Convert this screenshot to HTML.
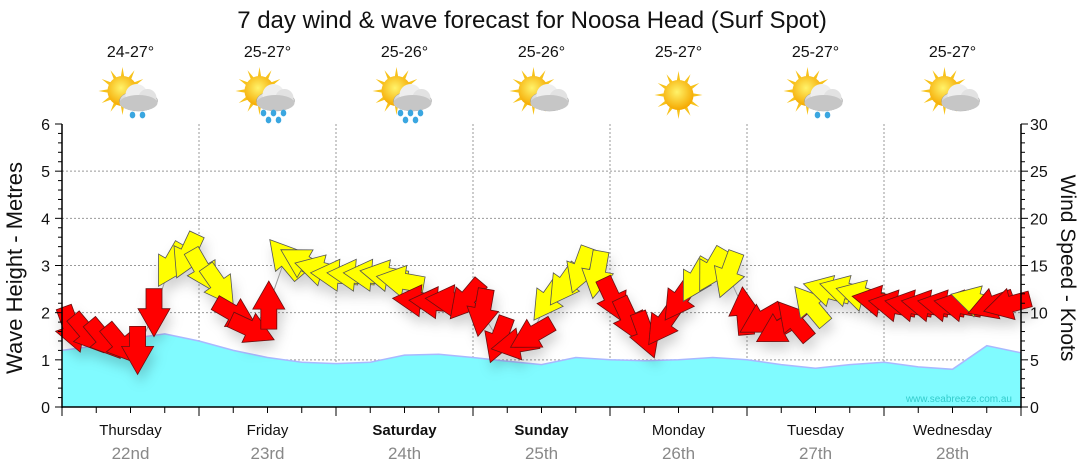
<!DOCTYPE html>
<html><head><meta charset="utf-8">
<style>
html,body{margin:0;padding:0;background:#fff;}
svg{display:block;font-family:"Liberation Sans",Tahoma,sans-serif;}
</style></head>
<body>
<svg id="chart" width="1080" height="475" viewBox="0 0 1080 475">
<defs>
<filter id="sh" x="-50%" y="-50%" width="200%" height="200%"><feDropShadow dx="3" dy="8" stdDeviation="6" flood-color="#000" flood-opacity="0.18"/></filter>
<radialGradient id="sunG" cx="0.45" cy="0.4" r="0.6"><stop offset="0" stop-color="#fff36a"/><stop offset="1" stop-color="#f5a800"/></radialGradient>
<linearGradient id="cloudG" x1="0" y1="0" x2="0" y2="1"><stop offset="0" stop-color="#f4f4f4"/><stop offset="1" stop-color="#a8a8a8"/></linearGradient>
</defs>
<text x="532" y="28" text-anchor="middle" font-size="24" fill="#111">7 day wind &amp; wave forecast for Noosa Head (Surf Spot)</text>
<g id="grid"></g>
<g id="wave"></g>
<g id="wind" filter="url(#sh)"></g>
<g id="axes"></g>
<g id="icons"></g>
<text x="1012" y="402" text-anchor="end" font-size="10" fill="#3cc">www.seabreeze.com.au</text>
<text transform="translate(22,268) rotate(-90)" text-anchor="middle" font-size="22" fill="#111">Wave Height - Metres</text>
<text transform="translate(1061,268) rotate(90)" text-anchor="middle" font-size="21" fill="#111">Wind Speed - Knots</text>
</svg>
<script>
const days = ["Thursday","Friday","Saturday","Sunday","Monday","Tuesday","Wednesday"];
const dates = ["22nd","23rd","24th","25th","26th","27th","28th"];
const boldDays = [false,false,true,true,false,false,false];
const temps = ["24-27°","25-27°","25-26°","25-26°","25-27°","25-27°","25-27°"];
const iconRain = [1,2,2,0,0,1,0];
const iconCloud = [1,1,1,1,0,1,1];
// wave height (m) every 6 hours
const waveHeights = [1.2,1.3,1.45,1.55,1.4,1.2,1.05,0.95,0.92,0.95,1.1,1.12,1.05,0.97,0.9,1.05,1.0,0.98,1.0,1.05,1.0,0.9,0.82,0.9,0.95,0.85,0.8,1.3,1.15];
// wind every 3 hours: speed (knots), direction arrow points (deg, 0=up, clockwise), colour
const windSpeed = [8.2,7.7,7.1,6.6,6.0,10.0,15.0,16.0,14.4,12.8,9.8,8.2,10.8,15.8,15.4,14.6,14.0,14.0,14.0,14.0,13.4,11.3,11.1,11.3,11.3,10.0,7.1,6.6,7.6,11.3,12.9,14.5,14.0,11.3,9.2,7.6,8.7,11.3,13.4,14.5,14.0,10.2,9.2,8.2,9.2,10.8,12.4,12.4,11.9,11.3,10.8,10.8,10.8,10.8,10.8,11.3,10.8,10.8];
const windDir = [160,140,140,140,180,180,210,205,150,145,120,115,0,320,300,285,275,275,275,280,280,275,275,275,220,190,200,260,240,215,215,200,190,155,155,160,215,215,210,210,200,355,240,240,320,320,285,285,285,280,280,280,280,280,280,285,250,255];
const windCol = ["r","r","r","r","r","r","y","y","y","y","r","r","r","y","y","y","y","y","y","y","y","r","r","r","r","r","r","r","r","y","y","y","y","r","r","r","r","r","y","y","y","r","r","r","r","y","y","y","y","r","r","r","r","r","r","y","r","r"];
const yTicks = [0,1,2,3,4,5,6];
const rTicks = [0,5,10,15,20,25,30];

const X0=62, X1=1021, Y0=407, Y1=124, DAYW=(X1-X0)/7;
const NS="http://www.w3.org/2000/svg";
const xH = h => X0 + h/24*DAYW;
const yM = m => Y0 - m/6*(Y0-Y1);
const yK = k => Y0 - k/30*(Y0-Y1);
function mk(tag, attrs, parent){const e=document.createElementNS(NS,tag);for(const k in attrs)e.setAttribute(k,attrs[k]);parent.appendChild(e);return e;}
const grid=document.getElementById('grid'), axes=document.getElementById('axes'), wave=document.getElementById('wave'), wind=document.getElementById('wind'), icons=document.getElementById('icons');

for(const t of yTicks){ if(t===0||t===6) continue;
  const l=mk('line',{x1:X0,x2:X1,y1:yM(t),y2:yM(t),stroke:'#999','stroke-dasharray':'2,2','stroke-width':1},grid);
  
  
}
for(let d=1;d<7;d++){
  const l=mk('line',{x1:X0+d*DAYW,x2:X0+d*DAYW,y1:Y1,y2:Y0,stroke:'#999','stroke-dasharray':'2,2','stroke-width':1},grid);
  
  
}
let p=`M${X0},${Y0}`;
waveHeights.forEach((v,i)=>{p+=` L${xH(i*6).toFixed(1)},${yM(v).toFixed(1)}`;});
p+=` L${xH((waveHeights.length-1)*6)},${Y0} Z`;
const wa=mk('path',{d:p,fill:'#80fbff',stroke:'none'},wave);


let lp='';
waveHeights.forEach((v,i)=>{lp+=(i?' L':'M')+xH(i*6).toFixed(1)+','+yM(v).toFixed(1);});
const wl=mk('path',{d:lp,fill:'none',stroke:'#a9b8ff','stroke-width':1.5},wave);



// arrows positioned across hours 4..164 so first/last arrows sit inside the plot like the reference
const xW = i => X0 + 10 + i*(X1 - X0 - 24)/(windSpeed.length-1);
let wp='';
windSpeed.forEach((v,i)=>{wp+=(i?' L':'M')+xW(i).toFixed(1)+','+yK(v).toFixed(1);});
const wln=mk('path',{d:wp,fill:'none',stroke:'#999','stroke-width':1},wind);


const arrowPts="-8,24 8,24 8,4 16,4 0,-24 -16,4 -8,4";
windSpeed.forEach((v,i)=>{
  const a=mk('polygon',{points:arrowPts,fill:windCol[i]==='r'?'#ff0000':'#ffff00',stroke:windCol[i]==='r'?'#6a1010':'#555','stroke-width':0.8,
    transform:`translate(${xW(i).toFixed(1)},${yK(v).toFixed(1)}) rotate(${windDir[i]})`},wind);
  
  
});

const la=mk('line',{x1:X0,x2:X0,y1:Y1,y2:Y0+1,stroke:'#000','stroke-width':1.5},axes);
 
const ra=mk('line',{x1:X1,x2:X1,y1:Y1,y2:Y0+1,stroke:'#000','stroke-width':1.5},axes);
 
const ba=mk('line',{x1:X0,x2:X1,y1:Y0,y2:Y0,stroke:'#000','stroke-width':1.5},axes);
 
for(let m=0;m<=30;m++){
  const y=yM(m/5), big=m%5===0;
  mk('line',{x1:X0-(big?7:4),x2:X0,y1:y,y2:y,stroke:'#000'},axes);
  mk('line',{x1:X1,x2:X1+(big?7:4),y1:y,y2:y,stroke:'#000'},axes);
}
yTicks.forEach(t=>{
  const tx=mk('text',{x:X0-12,y:yM(t)+6,'text-anchor':'end','font-size':16,fill:'#111'},axes);
  tx.textContent=t;
  
  
});
rTicks.forEach(t=>{
  const tx=mk('text',{x:X1+9,y:yK(t)+6,'text-anchor':'start','font-size':16,fill:'#111'},axes);
  tx.textContent=t;
  
  
});
for(let q=0;q<=28;q++){
  const x=X0+q*DAYW/4;
  mk('line',{x1:x,x2:x,y1:Y0,y2:Y0+(q%4===0?9:6),stroke:'#000'},axes);
}
days.forEach((d,i)=>{
  const cx=X0+(i+0.5)*DAYW;
  const t=mk('text',{x:cx,y:435,'text-anchor':'middle','font-size':15,fill:'#111','font-weight':boldDays[i]?'bold':'normal'},axes);
  t.textContent=d;
  
  
  const t2=mk('text',{x:cx,y:459,'text-anchor':'middle','font-size':17,fill:'#888'},axes);
  t2.textContent=dates[i];
  
  
  const t3=mk('text',{x:cx,y:57,'text-anchor':'middle','font-size':16,fill:'#111'},icons);
  t3.textContent=temps[i];
  
  
  const g=mk('g',{transform:`translate(${cx},95)`},icons);
  
  
  const sx=iconCloud[i]?-8:0, sy=iconCloud[i]?-4:0;
  for(let r=0;r<12;r++){
    const ang=r*30*Math.PI/180;
    mk('polygon',{points:`${sx+Math.cos(ang-0.15)*13},${sy+Math.sin(ang-0.15)*13} ${sx+Math.cos(ang)*24},${sy+Math.sin(ang)*24} ${sx+Math.cos(ang+0.15)*13},${sy+Math.sin(ang+0.15)*13}`,fill:'#f7c21a'},g);
  }
  mk('circle',{cx:sx,cy:sy,r:15,fill:'url(#sunG)'},g);
  if(iconCloud[i]){
    mk('ellipse',{cx:8,cy:6,rx:19,ry:10,fill:'url(#cloudG)',stroke:'#999','stroke-width':0.5},g);
    mk('circle',{cx:6,cy:0,r:11,fill:'#eee'},g);
    mk('circle',{cx:17,cy:3,r:9,fill:'#e2e2e2'},g);
    mk('ellipse',{cx:8,cy:8,rx:19,ry:8,fill:'#c6c6c6'},g);
  }
  if(iconRain[i]){
    const drops=iconRain[i]===1?[[2,20],[12,20]]:[[-4,18],[6,18],[16,18],[1,25],[11,25]];
    drops.forEach(([dx,dy])=>mk('ellipse',{cx:dx,cy:dy,rx:2.8,ry:3.4,fill:'#3aa6e0'},g));
  }
});
</script>
</body></html>
